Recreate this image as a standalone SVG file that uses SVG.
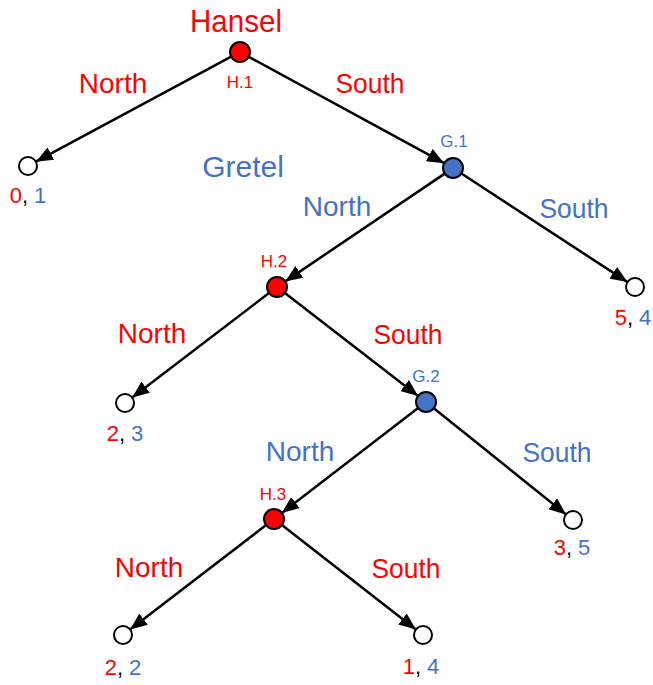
<svg xmlns="http://www.w3.org/2000/svg" width="653" height="685" viewBox="0 0 653 685">
<defs>
<marker id="arr" markerUnits="userSpaceOnUse" markerWidth="18" markerHeight="14" refX="17" refY="7" orient="auto">
<path d="M0,0 L17,7 L0,14 z" fill="#000"/>
</marker>
<style>
text{font-family:"Liberation Sans",Arial,sans-serif;text-anchor:middle}
.edge{stroke:#000;stroke-width:2.5;fill:none;marker-end:url(#arr)}
.h{fill:#FF0000;stroke:#000;stroke-width:2}
.g{fill:#4472C4;stroke:#000;stroke-width:2}
.leaf{fill:#fff;stroke:#000;stroke-width:2}
.act{font-size:28px}
.nm{font-size:17px}
.pay{font-size:22px;fill:#000}
.red{fill:#FF0000}
.blue{fill:#4472C4}
</style>
</defs>
<g id="connectors">
<line class="edge" x1="231.2" y1="56.7" x2="35.9" y2="161.7"/>
<line class="edge" x1="248.8" y1="56.8" x2="444.2" y2="163.2"/>
<line class="edge" x1="444.7" y1="173.6" x2="285.3" y2="281.4"/>
<line class="edge" x1="461.4" y1="173.5" x2="627.5" y2="282.1"/>
<line class="edge" x1="269.0" y1="293.1" x2="132.2" y2="397.5"/>
<line class="edge" x1="284.9" y1="293.1" x2="418.1" y2="395.9"/>
<line class="edge" x1="418.1" y1="408.1" x2="281.9" y2="512.9"/>
<line class="edge" x1="433.8" y1="408.3" x2="566.0" y2="514.4"/>
<line class="edge" x1="266.1" y1="525.1" x2="130.1" y2="629.5"/>
<line class="edge" x1="281.9" y1="525.1" x2="415.9" y2="629.5"/>
</g>
<g id="labels">
<text class="act red" x="236" y="32" style="font-size:32px" textLength="92" lengthAdjust="spacingAndGlyphs">Hansel</text>
<text class="act blue" x="243" y="177" style="font-size:30px">Gretel</text>
<text class="act red" x="113" y="93">North</text>
<text class="act red" x="370" y="93" textLength="69" lengthAdjust="spacingAndGlyphs">South</text>
<text class="act blue" x="337" y="216">North</text>
<text class="act blue" x="574" y="218" textLength="69" lengthAdjust="spacingAndGlyphs">South</text>
<text class="act red" x="152" y="343">North</text>
<text class="act red" x="408" y="344" textLength="69" lengthAdjust="spacingAndGlyphs">South</text>
<text class="act blue" x="300" y="461">North</text>
<text class="act blue" x="557" y="462" textLength="69" lengthAdjust="spacingAndGlyphs">South</text>
<text class="act red" x="149" y="577">North</text>
<text class="act red" x="406" y="578" textLength="69" lengthAdjust="spacingAndGlyphs">South</text>
</g>
<g id="H1"><circle class="h" cx="240" cy="52" r="10"/><text class="nm red" x="240" y="88">H.1</text></g>
<g id="G1"><circle class="g" cx="453" cy="168" r="10"/><text class="nm blue" x="454" y="147">G.1</text></g>
<g id="H2"><circle class="h" cx="277" cy="287" r="10"/><text class="nm red" x="274" y="267">H.2</text></g>
<g id="G2"><circle class="g" cx="426" cy="402" r="10"/><text class="nm blue" x="426" y="382">G.2</text></g>
<g id="H3"><circle class="h" cx="274" cy="519" r="10"/><text class="nm red" x="273" y="500">H.3</text></g>
<g id="L01"><circle class="leaf" cx="28" cy="166" r="9"/><text class="pay" x="28" y="203"><tspan class="red">0</tspan>, <tspan class="blue">1</tspan></text></g>
<g id="L54"><circle class="leaf" cx="635" cy="287" r="9"/><text class="pay" x="633" y="325"><tspan class="red">5</tspan>, <tspan class="blue">4</tspan></text></g>
<g id="L23"><circle class="leaf" cx="125" cy="403" r="9"/><text class="pay" x="125" y="441"><tspan class="red">2</tspan>, <tspan class="blue">3</tspan></text></g>
<g id="L35"><circle class="leaf" cx="573" cy="520" r="9"/><text class="pay" x="572" y="555"><tspan class="red">3</tspan>, <tspan class="blue">5</tspan></text></g>
<g id="L22"><circle class="leaf" cx="123" cy="635" r="9"/><text class="pay" x="123" y="675"><tspan class="red">2</tspan>, <tspan class="blue">2</tspan></text></g>
<g id="L14"><circle class="leaf" cx="423" cy="635" r="9"/><text class="pay" x="421" y="674"><tspan class="red">1</tspan>, <tspan class="blue">4</tspan></text></g>
</svg>
